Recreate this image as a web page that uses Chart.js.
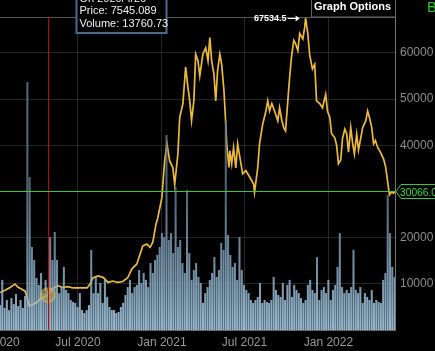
<!DOCTYPE html>
<html>
<head>
<meta charset="utf-8">
<script src="https://cdn.jsdelivr.net/npm/chart.js@4"></script>
<style>
  html, body { margin: 0; padding: 0; background: #000; overflow: hidden; }
  #wrap { width: 435px; height: 351px; position: relative; }
</style>
</head>
<body>
<div id="wrap"><canvas id="btcChart"></canvas></div>
<script>
// BTC price / volume chart, days counted from 2020-01-12

const xMaxDay = 866;
const tickDays = [-11, 171, 355, 536, 720];
const tickLabels = ['Jan 2020', 'Jul 2020', 'Jan 2021', 'Jul 2021', 'Jan 2022'];
const priceTicks = [10000, 20000, 30000, 40000, 50000, 60000];

const priceDays = [0, 11, 22, 33, 39, 48, 55, 59, 64, 72, 81, 88, 94, 105, 114, 120, 127, 138, 149, 160,
  175, 191, 197, 204, 215, 226, 237, 247, 258, 269, 280, 289, 300, 307, 313, 322, 329, 335, 342, 346,
  355, 357, 361, 366, 372, 379, 383, 390, 394, 401, 407, 412, 416, 420, 425, 429, 434, 438, 445, 451,
  456, 460, 464, 469, 473, 477, 482, 486, 491, 495, 497, 502, 504, 508, 512, 517, 521, 526, 532, 539,
  548, 556, 558, 565, 569, 576, 583, 587, 591, 596, 602, 609, 613, 618, 622, 626, 631, 635, 639, 644,
  648, 653, 657, 664, 668, 670, 675, 679, 685, 690, 694, 701, 707, 714, 718, 723, 727, 734, 738, 742,
  747, 751, 756, 760, 764, 769, 773, 777, 782, 786, 791, 795, 802, 806, 810, 815, 819, 823, 828, 834,
  841, 845, 848, 852, 854, 858, 863, 866];
const priceValues = [8100, 8600, 9200, 9950, 9300, 8800, 8400, 7200, 5200, 5500, 6000, 6700, 7000, 7545, 8850, 9200, 9600, 9200, 9400, 9100,
  9100, 9100, 9900, 11300, 11700, 11400, 10300, 10600, 10300, 10500, 11300, 13200, 14300, 16400, 18200, 18600, 17900, 19000, 22900, 24300,
  28700, 31500, 36600, 40300, 36600, 35100, 31500, 38100, 46000, 49000, 56900, 52500, 49600, 45300, 49600, 59700, 58300, 55000, 59800, 61100,
  58300, 63300, 58300, 55400, 49600, 56100, 59700, 57500, 51800, 44600, 40300, 35200, 38800, 36000, 39500, 35100, 40300, 37300, 33800, 34500,
  33000, 31600, 29800, 35100, 40300, 44600, 47400, 49600, 47400, 49000, 47400, 45300, 48100, 45300, 43800, 43100, 49600, 54700, 59000, 62700,
  62000, 60500, 64200, 63000, 65500, 67534.5, 64000, 59500, 56500, 57500, 49600, 49000, 48100, 51000, 47400, 46000, 42500, 41600, 40000, 36000,
  36800, 41500, 43500, 42500, 38500, 43800, 40500, 38100, 42400, 39000, 41600, 43800, 45300, 47400, 46000, 43800, 40300, 41000, 39500, 38500,
  37000, 35500, 33500, 30500, 29300, 29800, 29600, 30066];

// volume in thousands, one bar every 5 days
const volumeStep = 5;
const volumeValues = [10.4, 20.9, 9.2, 12.5, 8.3, 13.3, 10.8, 15.0, 10.0, 12.5, 9.2, 14.2, 103.4, 63.8, 34.6, 29.2, 21.7, 18.8, 23.8, 15.4,
  20.9, 16.7, 38.8, 29.2, 40.9, 29.2, 15.4, 17.9, 26.3, 16.7, 15.4, 12.5, 11.7, 11.3, 9.6, 15.4, 8.3, 7.1, 8.3, 10.4,
  33.4, 15.4, 22.1, 15.4, 19.6, 11.3, 20.9, 13.8, 9.6, 8.3, 8.3, 7.1, 7.5, 9.6, 11.3, 14.6, 17.9, 20.9, 15.4, 17.9,
  18.8, 25.0, 19.6, 23.8, 20.9, 17.9, 27.9, 23.8, 29.2, 31.3, 34.6, 40.4, 38.8, 81.3, 37.5, 40.4, 32.1, 59.6, 34.6, 37.5,
  27.9, 23.8, 58.4, 32.1, 20.9, 25.0, 27.9, 22.1, 19.6, 11.3, 15.4, 17.9, 20.9, 23.8, 30.4, 22.1, 25.0, 36.3, 33.4, 87.6,
  39.6, 31.3, 26.3, 27.9, 20.9, 38.8, 25.0, 18.8, 16.7, 15.4, 12.5, 11.3, 12.5, 13.8, 19.6, 11.3, 12.5, 11.7, 11.3, 12.5,
  22.1, 16.7, 14.6, 13.8, 19.6, 12.5, 18.8, 20.9, 13.8, 18.8, 16.7, 15.4, 13.3, 11.3, 12.5, 18.8, 20.9, 16.7, 15.4, 30.4,
  12.5, 16.7, 17.9, 15.4, 20.9, 12.5, 16.7, 18.8, 26.3, 40.4, 17.9, 15.4, 16.7, 15.4, 17.9, 33.4, 16.7, 15.4, 17.9, 11.3,
  15.4, 13.8, 12.5, 16.7, 11.3, 12.5, 11.7, 11.3, 20.9, 23.8, 56.3, 40.4, 26.3, 22.1];

const cursorDay = 105;
const cursorDate = 'On 2020/4/26';
const cursorPrice = 7545.089;
const cursorVolume = 13760.73;
const peakDay = 670;
const peakPrice = 67534.5;
const lastPrice = 30066.0;

const pricePoints = priceDays.map((d, i) => ({ x: d, y: priceValues[i] }));
const volumePoints = volumeValues.map((v, i) => ({ x: i * volumeStep, y: v }));

const fontFamily = '"Liberation Sans", Arial, sans-serif';

// Volume fill: light near the base, darker towards spike tops
function volumeFill(context) {
  const area = context.chart.chartArea;
  if (!area) return 'rgba(160, 196, 222, 0.85)';
  const g = context.chart.ctx.createLinearGradient(0, area.bottom, 0, area.bottom - 140);
  g.addColorStop(0, 'rgba(165, 200, 225, 0.92)');
  g.addColorStop(0.35, 'rgba(140, 175, 200, 0.85)');
  g.addColorStop(1, 'rgba(95, 120, 140, 0.85)');
  return g;
}

// Overlays: cursor, last price, peak marker, boxes
const overlayPlugin = {
  id: 'overlay',
  afterDraw(chart) {
    const { ctx, chartArea, scales } = chart;
    const xs = scales.x, ys = scales.y;
    ctx.save();

    // top border of the plot
    ctx.strokeStyle = '#555';
    ctx.lineWidth = 1;
    ctx.beginPath();
    ctx.moveTo(0, chartArea.top + 0.5);
    ctx.lineTo(chartArea.right, chartArea.top + 0.5);
    ctx.stroke();

    // cursor line
    const cx = Math.round(xs.getPixelForValue(cursorDay)) + 0.5;
    ctx.strokeStyle = '#c80000';
    ctx.beginPath();
    ctx.moveTo(cx, chartArea.top);
    ctx.lineTo(cx, chartArea.bottom);
    ctx.stroke();

    // last price line and tag
    const ly = Math.round(ys.getPixelForValue(lastPrice)) + 0.5;
    ctx.strokeStyle = '#3cc83c';
    ctx.beginPath();
    ctx.moveTo(0, ly);
    ctx.lineTo(chartArea.right + 1, ly);
    ctx.stroke();
    const tx = chartArea.right + 1;
    ctx.fillStyle = '#000';
    ctx.beginPath();
    ctx.moveTo(tx, ly);
    ctx.lineTo(tx + 5, ly - 7);
    ctx.lineTo(tx + 50, ly - 7);
    ctx.lineTo(tx + 50, ly + 7);
    ctx.lineTo(tx + 5, ly + 7);
    ctx.closePath();
    ctx.fill();
    ctx.stroke();
    ctx.fillStyle = '#3cd83c';
    ctx.font = '11px ' + fontFamily;
    ctx.textBaseline = 'middle';
    ctx.textAlign = 'left';
    ctx.fillText(lastPrice.toFixed(1), tx + 4, ly + 1, 37);

    // peak marker
    const px = xs.getPixelForValue(peakDay);
    const py = chartArea.top + 1.5;
    ctx.strokeStyle = '#fff';
    ctx.fillStyle = '#fff';
    ctx.beginPath();
    ctx.moveTo(px - 18, py);
    ctx.lineTo(px - 7, py);
    ctx.stroke();
    ctx.beginPath();
    ctx.moveTo(px - 6, py);
    ctx.lineTo(px - 10, py - 3);
    ctx.lineTo(px - 10, py + 3);
    ctx.closePath();
    ctx.fill();
    ctx.font = 'bold 9px ' + fontFamily;
    ctx.textAlign = 'right';
    ctx.fillText(String(peakPrice), px - 19, py);

    // cursor info box
    const bx = cx + 28;
    ctx.fillStyle = '#000';
    ctx.fillRect(bx, -10, 90, 43);
    ctx.strokeStyle = '#4d6b8f';
    ctx.lineWidth = 2;
    ctx.strokeRect(bx, -10, 90, 43);
    ctx.fillStyle = '#f0f0f0';
    ctx.font = '11px ' + fontFamily;
    ctx.textAlign = 'left';
    ctx.fillText(cursorDate, bx + 3, -1);
    ctx.fillText('Price: ' + cursorPrice, bx + 3, 11);
    ctx.fillText('Volume: ' + cursorVolume, bx + 3, 24);

    // graph options button
    ctx.lineWidth = 1;
    ctx.strokeStyle = '#666';
    ctx.fillStyle = '#000';
    ctx.fillRect(311, -1, 84, 18);
    ctx.strokeRect(311.5, -1, 84, 18);
    ctx.fillStyle = '#fff';
    ctx.font = 'bold 11px ' + fontFamily;
    ctx.fillText('Graph Options', 314, 7);

    ctx.fillStyle = '#22cc22';
    ctx.font = '15px ' + fontFamily;
    ctx.fillText('B', 427, 8);

    ctx.restore();
  }
};

new Chart(document.getElementById('btcChart'), {
  type: 'line',
  data: {
    datasets: [
      {
        type: 'line',
        label: 'Cursor',
        data: [{ x: cursorDay, y: cursorPrice }],
        yAxisID: 'y',
        showLine: false,
        pointRadius: 7,
        pointBackgroundColor: 'rgba(190, 160, 60, 0.45)',
        pointBorderColor: 'rgba(220, 190, 80, 0.55)',
        pointBorderWidth: 2,
        order: 0
      },
      {
        type: 'bar',
        label: 'Volume',
        data: volumePoints,
        yAxisID: 'yv',
        backgroundColor: volumeFill,
        borderWidth: 0,
        barPercentage: 0.9,
        categoryPercentage: 1,
        order: 1
      },
      {
        type: 'line',
        label: 'Price',
        data: pricePoints,
        yAxisID: 'y',
        borderColor: '#ebba3c',
        borderWidth: 1.7,
        pointRadius: 0,
        tension: 0,
        order: 2
      }
    ]
  },
  options: {
    responsive: true,
    maintainAspectRatio: false,
    animation: false,
    layout: { autoPadding: false, padding: { top: 17, left: 0, right: 0, bottom: 0 } },
    plugins: {
      legend: { display: false },
      tooltip: { enabled: false }
    },
    scales: {
      x: {
        type: 'linear',
        min: 0,
        max: xMaxDay,
        offset: false,
        afterBuildTicks: (scale) => { scale.ticks = tickDays.map(v => ({ value: v })); },
        afterFit: (scale) => { scale.height = 21; scale.paddingLeft = 0; scale.paddingRight = 0; },
        ticks: {
          autoSkip: false,
          maxRotation: 0,
          padding: 5,
          color: '#999',
          font: { family: fontFamily, size: 12 },
          callback: (value, index) => tickLabels[index]
        },
        grid: { color: '#262626', drawTicks: false, offset: false },
        border: { color: '#666' }
      },
      y: {
        position: 'right',
        min: 0,
        max: 67750,
        afterBuildTicks: (scale) => { scale.ticks = priceTicks.map(v => ({ value: v })); },
        afterFit: (scale) => { scale.width = 40; scale.paddingTop = 0; scale.paddingBottom = 0; },
        ticks: {
          padding: 5,
          color: '#8c8c8c',
          font: { family: fontFamily, size: 12 },
          callback: (value) => String(value)
        },
        grid: { color: '#262626', drawTicks: false },
        border: { color: '#777' }
      },
      yv: {
        display: false,
        min: 0,
        max: 130.5
      }
    }
  },
  plugins: [overlayPlugin]
});
</script>
</body>
</html>
